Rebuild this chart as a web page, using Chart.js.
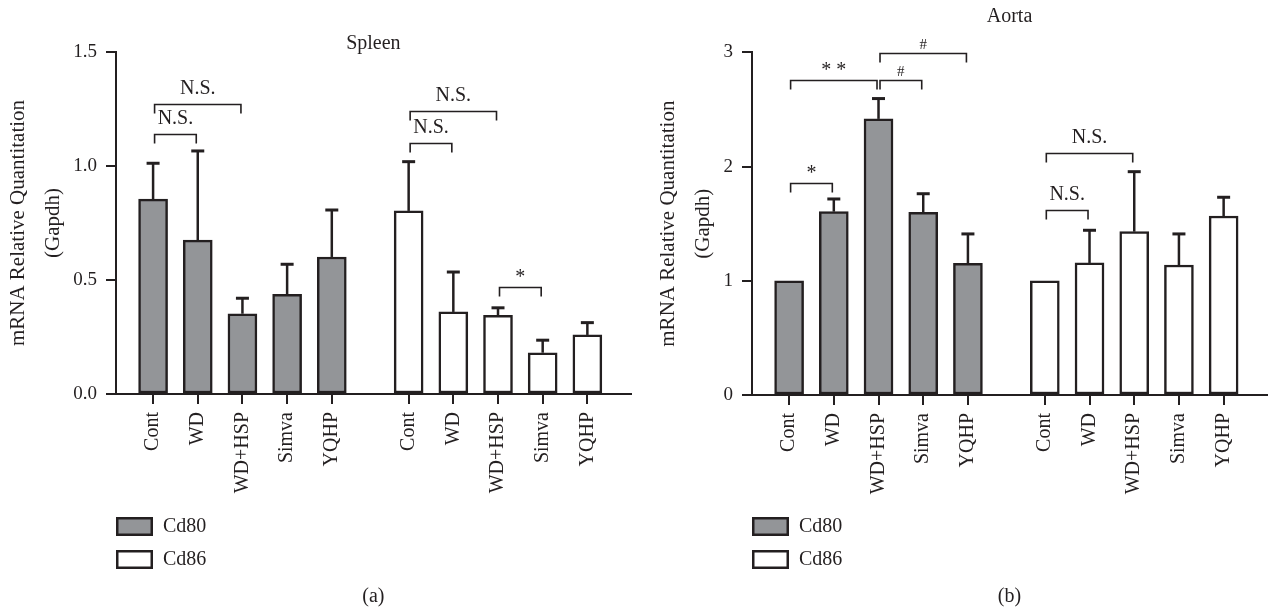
<!DOCTYPE html>
<html>
<head>
<meta charset="utf-8">
<title>Cd80 / Cd86 mRNA</title>
<script src="https://cdn.jsdelivr.net/npm/chart.js@4.4.1/dist/chart.umd.min.js"></script>
<style>
  body { margin: 0; background: #fff; }
  .panel { position: absolute; top: 0; width: 634px; height: 610px; }
</style>
</head>
<body>
<div class="panel" style="left:0"><canvas id="spleen" width="634" height="610"></canvas></div>
<div class="panel" style="left:634px"><canvas id="aorta" width="634" height="610"></canvas></div>
<script>
const groups = ['Cont', 'WD', 'WD+HSP', 'Simva', 'YQHP'];
// x positions of the two bar groups (gap between Cd80 and Cd86 blocks)
const cd80Pos = [0, 1, 2, 3, 4];
const cd86Pos = [5.72, 6.72, 7.72, 8.72, 9.72];

const spleenCd80 = [0.855, 0.675, 0.352, 0.437, 0.601];
const spleenCd80Err = [1.012, 1.066, 0.42, 0.569, 0.807];
const spleenCd86 = [0.803, 0.36, 0.345, 0.181, 0.259];
const spleenCd86Err = [1.019, 0.535, 0.378, 0.236, 0.313];

const aortaCd80 = [1.0, 1.605, 2.417, 1.6, 1.153];
const aortaCd80Err = [1.0, 1.716, 2.595, 1.762, 1.41];
const aortaCd86 = [1.0, 1.156, 1.43, 1.138, 1.567];
const aortaCd86Err = [1.0, 1.442, 1.955, 1.41, 1.731];

// significance brackets: [from x, to x, height, label]
const spleenBrackets = [
  [cd80Pos[0], cd80Pos[2], 1.27, 'N.S.'],
  [cd80Pos[0], cd80Pos[1], 1.14, 'N.S.'],
  [cd86Pos[0], cd86Pos[2], 1.24, 'N.S.'],
  [cd86Pos[0], cd86Pos[1], 1.10, 'N.S.'],
  [cd86Pos[2], cd86Pos[3], 0.47, '*']
];
const aortaBrackets = [
  [cd80Pos[0], cd80Pos[1], 1.86, '*'],
  [cd80Pos[0], cd80Pos[2], 2.76, '* *'],
  [cd80Pos[2], cd80Pos[3], 2.76, '#'],
  [cd80Pos[2], cd80Pos[4], 2.99, '#'],
  [cd86Pos[0], cd86Pos[2], 2.12, 'N.S.'],
  [cd86Pos[0], cd86Pos[1], 1.62, 'N.S.']
];

const ink = '#231f20';
const grey = '#939598';
const serif = "'Liberation Serif', 'Times New Roman', serif";
Chart.defaults.font.family = serif;
Chart.defaults.color = ink;

const annotate = {
  id: 'annotate',
  afterDatasetsDraw(chart, args, opts) {
    const ctx = chart.ctx, xs = chart.scales.x, ys = chart.scales.y;
    ctx.save();
    ctx.strokeStyle = ink;
    ctx.fillStyle = ink;

    // error bars (upper only)
    opts.errors.forEach((errs, di) => {
      const meta = chart.getDatasetMeta(di);
      errs.forEach((e, i) => {
        const bar = meta.data[i];
        const top = ys.getPixelForValue(e);
        if (top >= bar.y - 1) return;
        ctx.lineWidth = 2.5;
        ctx.beginPath();
        ctx.moveTo(bar.x, bar.y);
        ctx.lineTo(bar.x, top);
        ctx.stroke();
        ctx.lineWidth = 3;
        ctx.beginPath();
        ctx.moveTo(bar.x - 6.5, top);
        ctx.lineTo(bar.x + 6.5, top);
        ctx.stroke();
      });
    });

    // brackets
    ctx.lineWidth = 1.6;
    ctx.textAlign = 'center';
    ctx.textBaseline = 'alphabetic';
    opts.brackets.forEach(([a, b, level, text]) => {
      const x1 = xs.getPixelForValue(a) + 1.5;
      const x2 = xs.getPixelForValue(b) - 1.5;
      const y = Math.round(ys.getPixelForValue(level)) + 0.5;
      ctx.beginPath();
      ctx.moveTo(x1, y + 9);
      ctx.lineTo(x1, y);
      ctx.lineTo(x2, y);
      ctx.lineTo(x2, y + 9);
      ctx.stroke();
      ctx.font = (text === '#' ? '15px ' : '20px ') + serif;
      ctx.fillText(text, (x1 + x2) / 2, y - (text === 'N.S.' ? 11 : 5));
    });
    ctx.restore();
  },
  afterDraw(chart, args, opts) {
    const ctx = chart.ctx, ca = chart.chartArea;
    const mid = (ca.left + ca.right) / 2;
    ctx.save();
    ctx.fillStyle = ink;
    ctx.strokeStyle = ink;
    ctx.font = '20px ' + serif;
    ctx.textAlign = 'center';
    ctx.textBaseline = 'middle';
    ctx.fillText(opts.title, mid, opts.titleY);
    ctx.fillText(opts.tag, mid, 597);

    // legend
    chart.data.datasets.forEach((ds, i) => {
      const y = 517 + i * 33;
      ctx.fillStyle = ds.backgroundColor;
      ctx.fillRect(ca.left + 1, y, 36, 19);
      ctx.lineWidth = 2.5;
      ctx.strokeRect(ca.left + 1.25, y + 1.25, 34.5, 16.5);
      ctx.fillStyle = ink;
      ctx.textAlign = 'left';
      ctx.fillText(ds.label, ca.left + 47, y + 10);
    });
    ctx.restore();
  }
};

function makePanel(id, cfg) {
  const bars = {
    borderColor: ink,
    borderWidth: 2.5,
    borderSkipped: false,
    barThickness: 29,
    grouped: false
  };
  return new Chart(document.getElementById(id), {
    type: 'bar',
    data: {
      datasets: [
        Object.assign({ label: 'Cd80', backgroundColor: grey,
          data: cd80Pos.map((x, i) => ({ x: x, y: cfg.cd80[i] })) }, bars),
        Object.assign({ label: 'Cd86', backgroundColor: '#ffffff',
          data: cd86Pos.map((x, i) => ({ x: x, y: cfg.cd86[i] })) }, bars)
      ]
    },
    options: {
      responsive: false,
      animation: false,
      events: [],
      devicePixelRatio: 1,
      layout: { padding: cfg.padding },
      plugins: {
        legend: { display: false },
        tooltip: { enabled: false },
        annotate: {
          errors: [cfg.cd80Err, cfg.cd86Err],
          brackets: cfg.brackets,
          title: cfg.title,
          titleY: cfg.titleY,
          tag: cfg.tag
        }
      },
      scales: {
        x: {
          type: 'linear',
          min: -0.83,
          max: 10.69,
          offset: false,
          afterBuildTicks: s => { s.ticks = cd80Pos.concat(cd86Pos).map(v => ({ value: v })); },
          afterFit: s => { s.height = cfg.xHeight; },
          ticks: {
            autoSkip: false,
            minRotation: 90,
            maxRotation: 90,
            padding: 8,
            color: ink,
            font: { size: 20 },
            callback: (v, i) => groups[i % groups.length]
          },
          grid: { drawOnChartArea: false, offset: false, tickLength: 10, lineWidth: 2, color: ink },
          border: { color: ink, width: 2 }
        },
        y: {
          min: 0,
          max: cfg.yMax,
          afterFit: s => { s.width = cfg.yWidth; },
          ticks: {
            stepSize: cfg.step,
            padding: 9,
            color: ink,
            font: { size: 19 },
            callback: v => cfg.fmt(v)
          },
          grid: { drawOnChartArea: false, tickLength: 10, lineWidth: 2, color: ink },
          border: { color: ink, width: 2 },
          title: {
            display: true,
            text: ['mRNA Relative Quantitation', '(Gapdh)'],
            color: ink,
            font: { size: 21, lineHeight: 1.667 },
            padding: { top: 0.5, bottom: 0 }
          }
        }
      }
    },
    plugins: [annotate]
  });
}

makePanel('spleen', {
  cd80: spleenCd80, cd80Err: spleenCd80Err,
  cd86: spleenCd86, cd86Err: spleenCd86Err,
  brackets: spleenBrackets,
  title: 'Spleen', titleY: 44, tag: '(a)',
  yMax: 1.5, step: 0.5, fmt: v => v.toFixed(1),
  padding: { left: 0, top: 52, right: 3.3, bottom: 0 },
  yWidth: 116, xHeight: 216
});

makePanel('aorta', {
  cd80: aortaCd80, cd80Err: aortaCd80Err,
  cd86: aortaCd86, cd86Err: aortaCd86Err,
  brackets: aortaBrackets,
  title: 'Aorta', titleY: 17, tag: '(b)',
  yMax: 3, step: 1, fmt: v => String(v),
  padding: { left: 16, top: 52.3, right: 1, bottom: 0 },
  yWidth: 102, xHeight: 215
});
</script>
</body>
</html>
